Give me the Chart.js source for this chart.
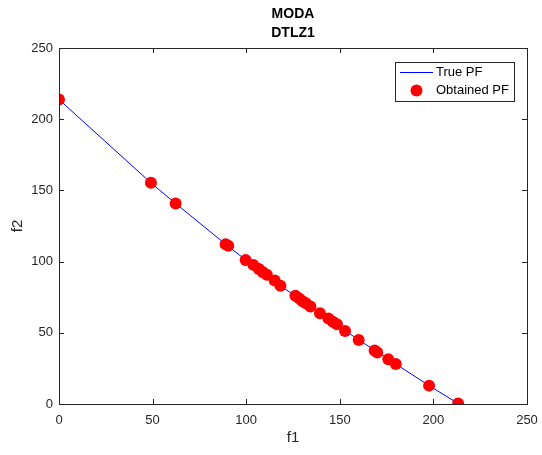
<!DOCTYPE html>
<html>
<head>
<meta charset="utf-8">
<script src="https://cdn.jsdelivr.net/npm/chart.js@4"></script>
<style>
  html, body { margin: 0; padding: 0; background: #fff; }
  #wrap { width: 542px; height: 455px; }
</style>
</head>
<body>
<div id="wrap"><canvas id="chart" width="542" height="455"></canvas></div>
<script>
// values
const f1 = [0, 49.1, 62.3, 89.0, 90.4, 99.7, 103.8, 106.8, 108.9, 111.0, 115.2, 118.3,
	126.3, 128.4, 130.1, 131.9, 134.3, 139.4, 143.9, 146.3, 148.5, 152.8, 160.1,
	168.6, 170.0, 175.9, 179.9, 197.7, 213.2]
const f2 = [213.8, 155.3, 140.8, 112.2, 111.2, 101.2, 97.7, 94.8, 92.6, 90.7, 86.7, 83.1,
	76.1, 74.0, 72.2, 70.8, 68.4, 63.7, 60.0, 57.8, 56.0, 51.3, 45.0,
	37.5, 36.1, 31.4, 28.1, 12.9, 0.3]

// the true front passes through the same points
const trueF1 = [0, 49.1, 62.3, 89.0, 99.7, 118.3, 139.4, 160.1, 179.9, 197.7, 213.2]
const trueF2 = [213.8, 155.3, 140.8, 112.2, 101.2, 83.1, 63.7, 45.0, 28.1, 12.9, 0.3]

const axisTicks = [0, 50, 100, 150, 200, 250]
const labels = ["True PF", "Obtained PF"]
const titleLines = ["MODA", "DTLZ1"]

const textColor = '#262626'
const axisColor = '#262626'
const fontFamily = '"Liberation Sans", Arial, sans-serif'

// matlab style title, box, inward ticks and legend
const matlabAxes = {
	id: 'matlabAxes',
	afterDraw(chart) {
		const ctx = chart.ctx
		const a = chart.chartArea
		const xs = chart.scales.x, ys = chart.scales.y
		ctx.save()

		// title, centred on the axes
		ctx.fillStyle = '#000'
		ctx.font = 'bold 14px ' + fontFamily
		ctx.textAlign = 'center'
		ctx.textBaseline = 'middle'
		const cx = (a.left + a.right) / 2
		ctx.fillText(titleLines[0], cx, 14.5)
		ctx.fillText(titleLines[1], cx, 33.5)

		ctx.strokeStyle = axisColor
		ctx.lineWidth = 1
		ctx.strokeRect(Math.round(a.left) + 0.5, Math.round(a.top) + 0.5,
			Math.round(a.right - a.left), Math.round(a.bottom - a.top))
		ctx.beginPath()
		axisTicks.forEach((v) => {
			const x = Math.round(xs.getPixelForValue(v)) + 0.5
			ctx.moveTo(x, a.bottom); ctx.lineTo(x, a.bottom - 5)
			ctx.moveTo(x, a.top); ctx.lineTo(x, a.top + 5)
			const y = Math.round(ys.getPixelForValue(v)) + 0.5
			ctx.moveTo(a.left, y); ctx.lineTo(a.left + 5, y)
			ctx.moveTo(a.right, y); ctx.lineTo(a.right - 5, y)
		})
		ctx.stroke()

		// legend
		const lx = 395, ly = 62, lw = 119, lh = 39
		ctx.fillStyle = '#fff'
		ctx.fillRect(lx, ly, lw, lh)
		ctx.strokeStyle = axisColor
		ctx.strokeRect(lx + 0.5, ly + 0.5, lw, lh)
		ctx.font = '13px ' + fontFamily
		ctx.fillStyle = '#000'
		ctx.textAlign = 'left'
		ctx.fillText(chart.data.datasets[0].label, 436, 72.5)
		ctx.fillText(chart.data.datasets[1].label, 436, 90.5)
		ctx.strokeStyle = '#0000ff'
		ctx.beginPath()
		ctx.moveTo(400, 72.5); ctx.lineTo(433, 72.5)
		ctx.stroke()
		ctx.fillStyle = '#ff0000'
		ctx.beginPath()
		ctx.arc(416.5, 90.5, 6, 0, Math.PI * 2)
		ctx.fill()
		ctx.restore()
	}
}

new Chart(document.getElementById('chart'), {
	type: 'scatter',
	data: {
		datasets: [
			{
				label: labels[0],
				data: trueF1.map((x, i) => ({ x: x, y: trueF2[i] })),
				showLine: true,
				borderColor: '#0000ff',
				borderWidth: 1,
				pointRadius: 0,
				order: 2
			},
			{
				label: labels[1],
				data: f1.map((x, i) => ({ x: x, y: f2[i] })),
				showLine: false,
				backgroundColor: '#ff0000',
				borderColor: '#ff0000',
				borderWidth: 0,
				pointRadius: 6,
				order: 1
			}
		]
	},
	options: {
		responsive: false,
		animation: false,
		layout: { padding: { left: 0, right: 15, top: 48, bottom: 0 } },
		plugins: {
			legend: { display: false },
			tooltip: { enabled: false },
			title: { display: false }
		},
		scales: {
			x: {
				type: 'linear',
				min: 0, max: 250,
				afterBuildTicks: (s) => { s.ticks = axisTicks.map((v) => ({ value: v })) },
				afterFit: (s) => { s.height = 51; s.paddingLeft = 0; s.paddingRight = 0 },
				grid: { display: false, tickLength: 0 },
				border: { display: false },
				ticks: { color: textColor, padding: 9, maxRotation: 0, font: { family: fontFamily, size: 13 } },
				title: { display: true, text: 'f1', color: textColor, padding: { top: 0, bottom: 8 }, font: { family: fontFamily, size: 15 } }
			},
			y: {
				type: 'linear',
				min: 0, max: 250,
				afterBuildTicks: (s) => { s.ticks = axisTicks.map((v) => ({ value: v })) },
				afterFit: (s) => { s.width = 59; s.paddingTop = 0; s.paddingBottom = 0 },
				grid: { display: false, tickLength: 0 },
				border: { display: false },
				ticks: { color: textColor, padding: 6, font: { family: fontFamily, size: 13 } },
				title: { display: true, text: 'f2', color: textColor, padding: { top: 9, bottom: 0 }, font: { family: fontFamily, size: 15 } }
			}
		}
	},
	plugins: [matlabAxes]
});
</script>
</body>
</html>
